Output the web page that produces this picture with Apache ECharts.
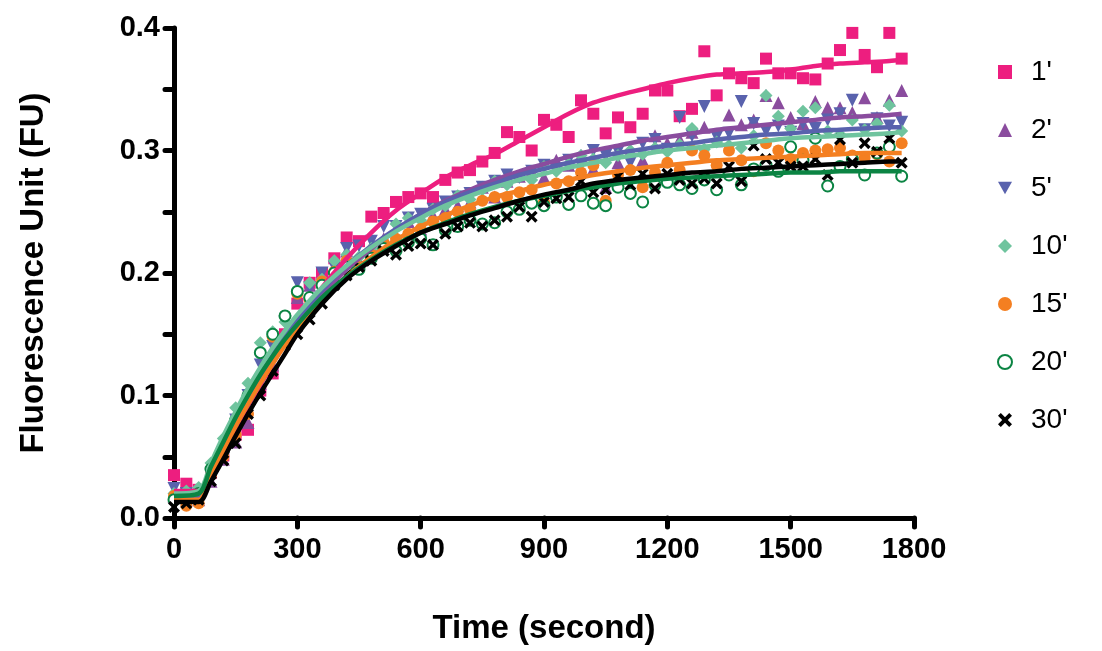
<!DOCTYPE html>
<html><head><meta charset="utf-8">
<script src="https://cdn.jsdelivr.net/npm/echarts@6/dist/echarts.min.js"></script>
<style>html,body{margin:0;padding:0;background:#fff}#c{width:1102px;height:651px}</style>
</head><body><div id="c"></div>
<script>
const times = [0,30,60,90,120,150,180,210,240,270,
  300,330,360,390,420,450,480,510,540,570,
  600,630,660,690,720,750,780,810,840,870,
  900,930,960,990,1020,1050,1080,1110,1140,1170,
  1200,1230,1260,1290,1320,1350,1380,1410,1440,1470,
  1500,1530,1560,1590,1620,1650,1680,1710,1740,1770];
const fitTimes = [0,60,90,120,150,180,210,240,270,300,
  360,420,480,540,600,660,720,780,840,900,960,1020,1080,1140,1200,1260,1320,1380,1440,1500,1560,1620,1680,1740,1770];
const seriesNames = ["1'","2'","5'","10'","15'","20'","30'"];
const xTicks = [0,300,600,900,1200,1500,1800];
const yTicks = [0,0.1,0.2,0.3,0.4];

const pts1 = [0.035,0.028,0.023,0.037,0.051,0.068,0.072,0.104,0.118,0.150,
 0.175,0.192,0.200,0.212,0.229,0.226,0.246,0.249,0.258,0.262,
 0.265,0.262,0.276,0.282,0.284,0.291,0.298,0.315,0.311,0.300,
 0.325,0.321,0.311,0.341,0.330,0.314,0.327,0.319,0.330,0.349,
 0.349,0.328,0.334,0.381,0.345,0.363,0.359,0.355,0.375,0.363,
 0.363,0.359,0.358,0.371,0.382,0.396,0.378,0.368,0.396,0.375];
const pts2 = [0.018,0.020,0.015,0.030,0.048,0.062,0.078,0.110,0.125,0.150,
 0.180,0.190,0.195,0.205,0.218,0.210,0.222,0.228,0.230,0.242,
 0.236,0.247,0.252,0.255,0.258,0.270,0.262,0.275,0.279,0.283,
 0.278,0.292,0.288,0.296,0.285,0.270,0.290,0.300,0.292,0.312,
 0.306,0.309,0.315,0.319,0.308,0.329,0.321,0.325,0.345,0.339,
 0.327,0.322,0.340,0.335,0.335,0.331,0.343,0.327,0.341,0.349];
const pts5 = [0.024,0.020,0.018,0.035,0.055,0.080,0.100,0.125,0.140,0.160,
 0.192,0.188,0.200,0.205,0.220,0.222,0.226,0.238,0.238,0.245,
 0.248,0.252,0.258,0.262,0.265,0.270,0.275,0.280,0.278,0.283,
 0.288,0.284,0.292,0.288,0.300,0.296,0.299,0.290,0.306,0.309,
 0.301,0.327,0.312,0.336,0.311,0.314,0.340,0.322,0.316,0.320,
 0.315,0.322,0.318,0.325,0.330,0.341,0.317,0.326,0.320,0.323];
const pts10 = [0.020,0.022,0.025,0.045,0.065,0.090,0.110,0.143,0.152,0.160,
 0.185,0.192,0.195,0.210,0.215,0.213,0.220,0.225,0.240,0.245,
 0.243,0.252,0.255,0.263,0.260,0.268,0.275,0.272,0.279,0.276,
 0.287,0.283,0.289,0.296,0.293,0.290,0.296,0.300,0.297,0.302,
 0.299,0.305,0.318,0.301,0.307,0.304,0.302,0.312,0.345,0.328,
 0.318,0.332,0.335,0.316,0.313,0.325,0.317,0.322,0.337,0.316];
const pts15 = [0.018,0.010,0.012,0.035,0.050,0.068,0.085,0.115,0.148,0.165,
 0.183,0.178,0.193,0.201,0.210,0.205,0.215,0.225,0.228,0.232,
 0.236,0.242,0.245,0.250,0.252,0.259,0.262,0.262,0.266,0.268,
 0.258,0.273,0.275,0.282,0.288,0.259,0.280,0.284,0.270,0.282,
 0.290,0.284,0.300,0.296,0.288,0.300,0.292,0.283,0.306,0.300,
 0.293,0.298,0.300,0.301,0.302,0.296,0.294,0.297,0.291,0.306];
const pts20 = [0.015,0.018,0.020,0.040,0.055,0.080,0.100,0.135,0.150,0.165,
 0.185,0.180,0.190,0.200,0.205,0.203,0.212,0.220,0.218,0.225,
 0.228,0.223,0.235,0.238,0.243,0.240,0.241,0.250,0.252,0.257,
 0.255,0.262,0.256,0.263,0.257,0.255,0.270,0.265,0.258,0.272,
 0.274,0.272,0.269,0.276,0.268,0.280,0.272,0.285,0.288,0.283,
 0.303,0.292,0.310,0.271,0.287,0.293,0.280,0.298,0.303,0.279];
const pts30 = [0.009,0.012,0.015,0.030,0.047,0.061,0.085,0.100,0.120,0.141,
 0.150,0.162,0.175,0.190,0.198,0.205,0.210,0.218,0.215,0.222,
 0.224,0.223,0.232,0.238,0.241,0.238,0.243,0.246,0.254,0.246,
 0.258,0.261,0.262,0.275,0.266,0.268,0.279,0.272,0.281,0.269,
 0.281,0.276,0.273,0.277,0.273,0.287,0.275,0.304,0.293,0.290,
 0.287,0.287,0.293,0.280,0.309,0.290,0.306,0.299,0.310,0.290];

const fit1 = [0.022,0.022,0.038,0.056,0.074,0.092,0.109,0.126,0.143,0.160,
 0.188,0.212,0.233,0.251,0.265,0.278,0.288,0.297,0.308,0.319,0.330,0.339,0.345,0.350,0.355,0.359,0.362,0.363,0.364,0.366,0.369,0.371,0.372,0.373,0.374];
const fit2 = [0.017,0.017,0.036,0.056,0.076,0.095,0.112,0.128,0.143,0.157,
 0.182,0.203,0.220,0.235,0.248,0.259,0.268,0.276,0.283,0.289,0.295,0.300,0.304,0.308,0.311,0.314,0.317,0.319,0.321,0.323,0.325,0.327,0.328,0.329,0.330];
const fit5 = [0.018,0.019,0.040,0.061,0.081,0.100,0.117,0.133,0.148,0.162,
 0.186,0.206,0.222,0.236,0.248,0.258,0.266,0.273,0.280,0.285,0.290,0.294,0.298,0.301,0.304,0.306,0.309,0.311,0.313,0.314,0.316,0.317,0.318,0.319,0.319];
const fit10 = [0.020,0.022,0.045,0.067,0.087,0.106,0.123,0.139,0.153,0.166,
 0.188,0.206,0.221,0.234,0.245,0.255,0.263,0.270,0.276,0.281,0.286,0.290,0.294,0.297,0.300,0.302,0.304,0.306,0.308,0.310,0.311,0.312,0.313,0.314,0.315];
const fit15 = [0.015,0.015,0.035,0.055,0.075,0.093,0.110,0.126,0.141,0.155,
 0.178,0.197,0.213,0.227,0.238,0.247,0.255,0.262,0.267,0.272,0.276,0.280,0.283,0.286,0.288,0.290,0.292,0.293,0.294,0.295,0.296,0.297,0.298,0.298,0.298];
const fit20 = [0.018,0.020,0.042,0.062,0.082,0.100,0.117,0.132,0.146,0.158,
 0.180,0.197,0.211,0.223,0.233,0.241,0.248,0.254,0.259,0.263,0.267,0.270,0.273,0.275,0.277,0.278,0.279,0.280,0.281,0.282,0.282,0.283,0.283,0.283,0.283];
const fit30 = [0.013,0.013,0.030,0.048,0.067,0.085,0.102,0.118,0.134,0.150,
 0.175,0.195,0.210,0.222,0.233,0.240,0.247,0.253,0.259,0.264,0.268,0.273,0.276,0.278,0.280,0.282,0.283,0.285,0.286,0.287,0.288,0.289,0.290,0.291,0.291];

const colors = ['#ED1E7F','#8A4C9E','#5962AD','#6FC49E','#F47F21','#0B8443','#000000'];
const symbols = ['rect','triangle','path://M0,0 L10,0 L5,9 Z','diamond','circle','emptyCircle',
  'path://M0,2 L2,0 L5,3 L8,0 L10,2 L7,5 L10,8 L8,10 L5,7 L2,10 L0,8 L3,5 Z'];
const sizes = [12,13,13,13,12,11,12];
const ptsAll = [pts1,pts2,pts5,pts10,pts15,pts20,pts30];
const fitAll = [fit1,fit2,fit5,fit10,fit15,fit20,fit30];

const series = [];
ptsAll.forEach((p,i)=>{
  series.push({
    name: seriesNames[i], type:'scatter', symbol: symbols[i], symbolSize: sizes[i],
    data: times.map((t,k)=>[t,p[k]]),
    itemStyle: i===5 ? {color:colors[i], borderColor:colors[i], borderWidth:2.5, opacity:1} : {color:colors[i], opacity:1},
    z: 2
  });
});
fitAll.forEach((f,i)=>{
  series.push({
    name: 'fit '+seriesNames[i], type:'line', showSymbol:false, symbol:'none', smooth:0.3,
    data: fitTimes.map((t,k)=>[t,f[k]]),
    lineStyle:{color:colors[i], width:4.5},
    z: 3
  });
});

const font = '"Liberation Sans Narrow","Arial Narrow","Liberation Sans",Arial,sans-serif';
const chart = echarts.init(document.getElementById('c'), null, {renderer:'canvas'});
chart.setOption({
  animation:false,
  backgroundColor:'#fff',
  grid:{left:174, right:188, top:28, bottom:133, containLabel:false},
  legend:{
    data: seriesNames.map((n,i)=>({name:n, icon: symbols[i]})),
    orient:'vertical', left:992, top:53, itemGap:30, itemWidth:14, itemHeight:14,
    textStyle:{fontSize:28, fontFamily:'"Liberation Sans",Arial,sans-serif', color:'#000', padding:[0,0,0,14]},
    selectedMode:false
  },
  xAxis:{
    type:'value', min:xTicks[0], max:xTicks[xTicks.length-1], interval:300,
    name:'Time (second)', nameLocation:'middle', nameGap:94,
    nameTextStyle:{fontSize:33, fontWeight:'bold', fontFamily:font, color:'#000'},
    axisLine:{show:true, onZero:false, lineStyle:{color:'#000', width:5}},
    axisTick:{show:true, length:9, lineStyle:{color:'#000', width:5, cap:'round'}},
    axisLabel:{fontSize:29, fontWeight:'bold', fontFamily:font, color:'#000', margin:17,
      formatter:v=>String(v)},
    splitLine:{show:false}
  },
  yAxis:{
    type:'value', min:yTicks[0], max:yTicks[yTicks.length-1], interval:0.1,
    name:'Fluorescence Unit (FU)', nameLocation:'middle', nameGap:124, nameRotate:90,
    nameTextStyle:{fontSize:33, fontWeight:'bold', fontFamily:font, color:'#000'},
    axisLine:{show:true, onZero:false, lineStyle:{color:'#000', width:5}},
    axisTick:{show:true, length:9, lineStyle:{color:'#000', width:5, cap:'round'}},
    minorTick:{show:true, splitNumber:2, length:9, lineStyle:{color:'#000', width:5, cap:'round'}},
    axisLabel:{fontSize:29, fontWeight:'bold', fontFamily:font, color:'#000', margin:14,
      formatter:v=>v.toFixed(1)},
    splitLine:{show:false}
  },
  series: series
});
</script></body></html>
